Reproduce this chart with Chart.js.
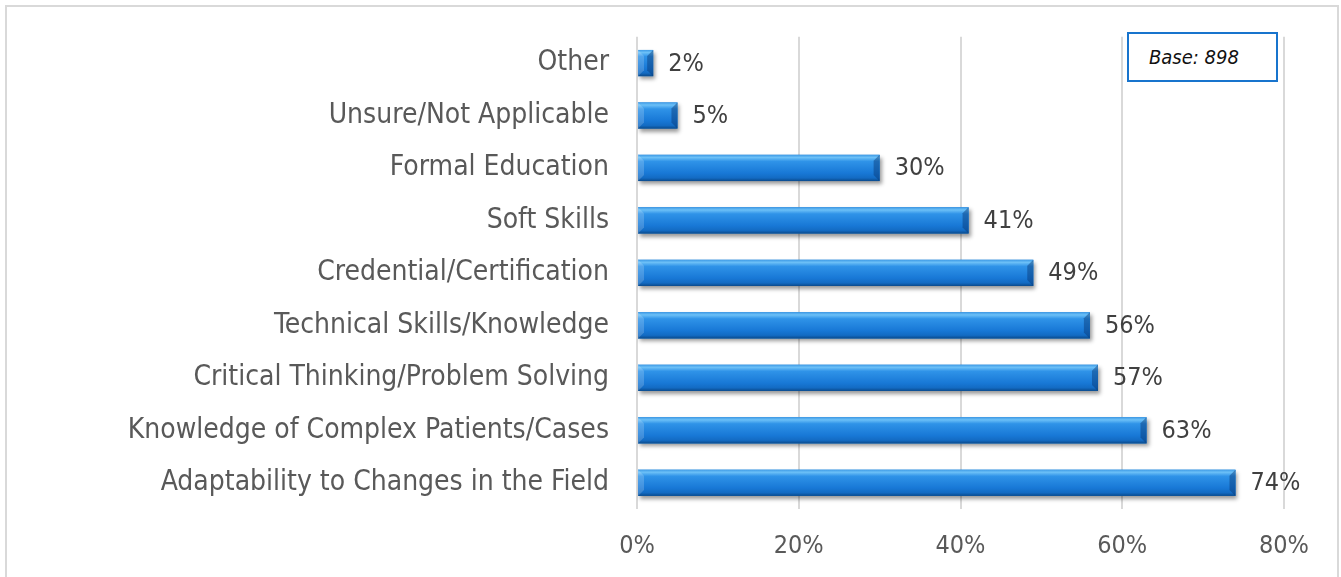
<!DOCTYPE html>
<html>
<head>
<meta charset="utf-8">
<script src="https://cdn.jsdelivr.net/npm/chart.js@4"></script>
<style>
  html, body { margin: 0; padding: 0; background: #fff; }
  #wrap { position: relative; width: 1341px; height: 577px; }
  #frame {
    position: absolute; left: 5px; top: 5px; width: 1334px; height: 575px;
    border: 2px solid #d9d9d9; box-sizing: border-box; pointer-events: none;
  }
  #base {
    position: absolute; left: 1127px; top: 32px; width: 151px; height: 50px;
    border: 2px solid #1874cd; box-sizing: border-box; background: #fff;
    font: italic 20px "DejaVu Sans Condensed", sans-serif; color: #111;
    line-height: 46px; padding-left: 20px;
  }
</style>
</head>
<body>
<div id="wrap">
  <canvas id="myChart" width="1341" height="577"></canvas>
  <div id="frame"></div>
  <div id="base">Base: 898</div>
</div>
<script>
let categories = [
  'Other',
  'Unsure/Not Applicable',
  'Formal Education',
  'Soft Skills',
  'Credential/Certification',
  'Technical Skills/Knowledge',
  'Critical Thinking/Problem Solving',
  'Knowledge of Complex Patients/Cases',
  'Adaptability to Changes in the Field',
];
let percents = [2, 5, 30, 41, 49, 56, 57, 63, 74];
let tickValues = [0, 20, 40, 60, 80];

const labelFont = '"DejaVu Sans Condensed", sans-serif';
var ctx = document.getElementById('myChart').getContext('2d');

// bevelled look: shadow under the bars, then a gradient and end caps painted over them
const bevelPlugin = {
  id: 'bevelPlugin',
  beforeDatasetsDraw(chart) {
    chart.ctx.save();
    chart.ctx.shadowColor = 'rgba(0,0,0,0.4)';
    chart.ctx.shadowBlur = 4;
    chart.ctx.shadowOffsetX = 2;
    chart.ctx.shadowOffsetY = 3;
  },
  afterDatasetsDraw(chart) {
    chart.ctx.restore();
    let c = chart.ctx;
    let meta = chart.getDatasetMeta(0);
    meta.data.forEach(function (bar) {
      let h = bar.height;
      let top = bar.y - h / 2;
      let left = bar.base;
      let w = bar.x - bar.base;
      let g = c.createLinearGradient(0, top, 0, top + h);
      g.addColorStop(0, '#3d9ae6');
      g.addColorStop(0.1, '#6cc0f7');
      g.addColorStop(0.25, '#2f93e8');
      g.addColorStop(0.7, '#1878d6');
      g.addColorStop(0.88, '#136bc3');
      g.addColorStop(1, '#0a4a8c');
      c.save();
      c.fillStyle = g;
      c.fillRect(left, top, w, h);
      let e = Math.min(6, w / 2);
      // right end bevel
      c.fillStyle = 'rgba(8,55,115,0.45)';
      c.beginPath();
      c.moveTo(left + w, top);
      c.lineTo(left + w - e, top + e);
      c.lineTo(left + w - e, top + h - e);
      c.lineTo(left + w, top + h);
      c.closePath();
      c.fill();
      // left end bevel
      c.fillStyle = 'rgba(255,255,255,0.18)';
      c.beginPath();
      c.moveTo(left, top);
      c.lineTo(left + e, top + e);
      c.lineTo(left + e, top + h - e);
      c.lineTo(left, top + h);
      c.closePath();
      c.fill();
      c.restore();
    });
  },
};

const valueLabels = {
  id: 'valueLabels',
  afterDraw(chart) {
    let c = chart.ctx;
    let meta = chart.getDatasetMeta(0);
    c.save();
    c.font = '25px ' + labelFont;
    c.fillStyle = '#404040';
    c.textAlign = 'left';
    c.textBaseline = 'middle';
    meta.data.forEach(function (bar, i) {
      c.fillText(percents[i] + '%', bar.x + 15, bar.y + 1);
    });
    c.restore();
  },
};

var myChart = new Chart(ctx, {
  type: 'bar',
  data: {
    labels: categories,
    datasets: [{
      label: 'Share',
      data: percents,
      backgroundColor: '#1a7fd8',
      borderWidth: 0,
      barPercentage: 0.5,
      categoryPercentage: 1,
    }]
  },
  options: {
    indexAxis: 'y',
    responsive: false,
    animation: false,
    layout: { padding: { top: 30, right: 57, bottom: 0, left: 0 } },
    plugins: {
      legend: { display: false },
      tooltip: { enabled: false },
    },
    scales: {
      x: {
        min: 0,
        max: 80,
        afterBuildTicks(scale) {
          scale.ticks = tickValues.map(v => ({ value: v }));
        },
        afterFit(scale) { scale.height = 68; },
        grid: { color: '#d9d9d9', lineWidth: 2, drawTicks: false },
        border: { display: false },
        ticks: {
          padding: 22,
          color: '#595959',
          font: { family: labelFont, size: 25 },
          callback: v => v + '%',
        },
      },
      y: {
        afterFit(scale) { scale.width = 637; },
        grid: { display: false },
        border: { display: false },
        ticks: {
          padding: 20,
          color: '#595959',
          font: { family: labelFont, size: 28 },
        },
      },
    },
  },
  plugins: [bevelPlugin, valueLabels],
});
</script>
</body>
</html>
